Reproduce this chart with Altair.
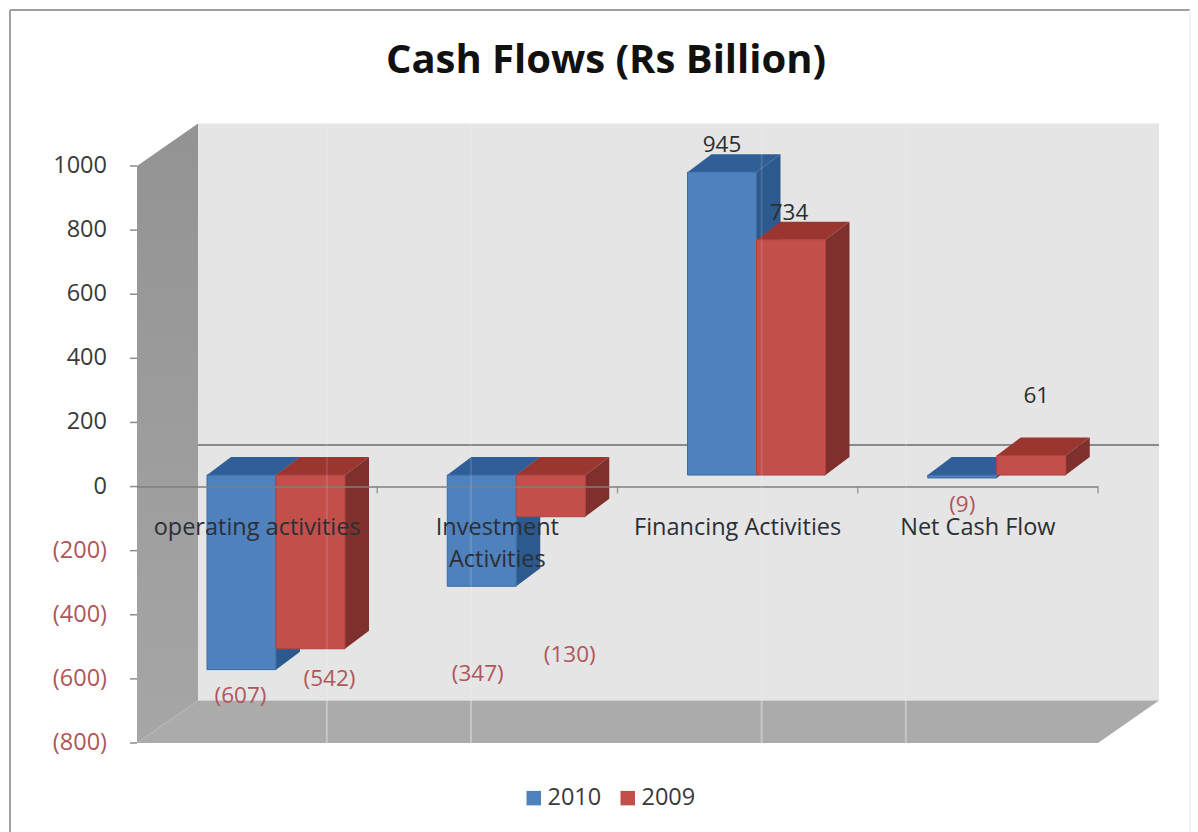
import altair as alt
import pandas as pd

# Cash flow figures in Rs billion
chart_title = "Cash Flows (Rs Billion)"
categories = ["operating activities", "Investment\nActivities", "Financing Activities", "Net Cash Flow"]
values_2010 = [-607, -347, 945, -9]
values_2009 = [-542, -130, 734, 61]
y_ticks = [-800, -600, -400, -200, 0, 200, 400, 600, 800, 1000]

# Plot-area geometry and the pixel size of one scale unit
PLOT_W, PLOT_H = 961, 577
LEFT, TOP = 137, 166
X_MIN, X_MAX = 0, 4
Y_MIN, Y_MAX = -800, 1000
UX = (X_MAX - X_MIN) / PLOT_W
UY = (Y_MAX - Y_MIN) / PLOT_H

# Pseudo-3D projection offsets, in scale units
WALL_DX, WALL_DY = 61 * UX, 42.5 * UY
BAR_BASE = 11.5 * UY
BAR_DX, BAR_DY = 24 * UX, 18 * UY
BAR_W = 69 * UX
BAR_START = 70 * UX

FONT = "Open Sans"
TEXT_SIZE = 23.5
RED_TEXT = "#B0565A"
DARK_TEXT = "#3A3A3A"

x_scale = alt.Scale(domain=[X_MIN, X_MAX], nice=False, zero=False)
y_scale = alt.Scale(domain=[Y_MIN, Y_MAX], nice=False, zero=False)


def X(field="x"):
    return alt.X(f"{field}:Q", scale=x_scale, axis=None, title=None, stack=None)


def Y(field="y"):
    return alt.Y(f"{field}:Q", scale=y_scale, axis=None, title=None, stack=None)


def vertical_face(rows, color, **mark):
    """Parallelogram whose left and right edges are vertical."""
    return alt.Chart(pd.DataFrame(rows)).mark_area(color=color, **mark).encode(
        x=X(), y=Y("y"), y2=alt.Y2("y2:Q"), detail="id:N"
    )


def horizontal_face(rows, color, **mark):
    """Parallelogram whose top and bottom edges are horizontal."""
    return alt.Chart(pd.DataFrame(rows)).mark_area(color=color, orient="horizontal", **mark).encode(
        y=Y(), x=X("x"), x2=alt.X2("x2:Q"), detail="id:N"
    )


def money(v):
    """Negative amounts are written in brackets."""
    return f"({abs(v)})" if v < 0 else str(v)


# Walls and floor of the box
left_wall = vertical_face(
    [
        {"id": 0, "x": X_MIN, "y": Y_MAX, "y2": Y_MIN},
        {"id": 0, "x": X_MIN + WALL_DX, "y": Y_MAX + WALL_DY, "y2": Y_MIN + WALL_DY},
    ],
    alt.Gradient(
        gradient="linear", x1=0, x2=0, y1=0, y2=1,
        stops=[alt.GradientStop(color="#939393", offset=0), alt.GradientStop(color="#A6A6A6", offset=1)],
    ),
)
back_wall = alt.Chart(
    pd.DataFrame([{"x": X_MIN + WALL_DX, "x2": X_MAX + WALL_DX, "y": Y_MAX + WALL_DY, "y2": Y_MIN + WALL_DY}])
).mark_rect(color="#E5E5E5").encode(x=X(), x2="x2:Q", y=Y(), y2="y2:Q")
floor = horizontal_face(
    [
        {"id": 0, "y": Y_MIN, "x": X_MIN, "x2": X_MAX},
        {"id": 0, "y": Y_MIN + WALL_DY, "x": X_MIN + WALL_DX, "x2": X_MAX + WALL_DX},
    ],
    "#ABABAB",
)

# Value axis: ticks and bracketed labels drawn along the front-left edge
tick_table = pd.DataFrame({"x": [X_MIN - 7 * UX] * len(y_ticks), "x2": [X_MIN] * len(y_ticks), "y": y_ticks})
value_ticks = alt.Chart(tick_table).mark_rule(color="#8C8C8C", strokeWidth=1.5).encode(
    x=X(), x2="x2:Q", y=Y()
)
axis_labels = [
    alt.Chart(
        pd.DataFrame(
            {"x": [X_MIN] * len(group), "y": group, "text": [money(v) for v in group]}
        )
    ).mark_text(font=FONT, fontSize=TEXT_SIZE, align="right", baseline="middle", dx=-30, color=color).encode(
        x=X(), y=Y(), text="text:N"
    )
    for group, color in [
        ([v for v in y_ticks if v < 0], RED_TEXT),
        ([v for v in y_ticks if v >= 0], DARK_TEXT),
    ]
]

# Zero lines on the back wall and at the front of the box
back_zero = alt.Chart(pd.DataFrame([{"x": X_MIN + WALL_DX, "x2": X_MAX + WALL_DX, "y": 41.5 * UY}])).mark_rule(
    color="#8A8A8A", strokeWidth=2
).encode(x=X(), x2="x2:Q", y=Y())
front_zero = alt.Chart(pd.DataFrame([{"x": X_MIN, "x2": X_MAX, "y": -0.5 * UY}])).mark_rule(
    color="#7F7F7F", strokeWidth=2, opacity=0.75
).encode(x=X(), x2="x2:Q", y=Y())
category_ticks = alt.Chart(pd.DataFrame({"x": [1, 2, 3, 4]})).mark_tick(
    color="#7F7F7F", orient="vertical", size=7, thickness=1.5, yOffset=3.5
).encode(x=X(), y=alt.datum(0, scale=y_scale, axis=None))

# Build each series' faces
series = [("2010", values_2010, 0, "#4F81BD", "#2F5F96", "#2C5A8E", "#3B6CA6"),
          ("2009", values_2009, 1, "#C24F4A", "#9A3530", "#7F2F2C", "#B0433F")]
color_scale = alt.Scale(domain=[s[0] for s in series], range=[s[3] for s in series])

bars = []
label_rows = []
for name, vals, pos, front_c, top_c, side_c, edge_c in series:
    side_rows, top_rows, front_rows = [], [], []
    for i, v in enumerate(vals):
        x0 = i + BAR_START + pos * BAR_W
        x1 = x0 + BAR_W
        hi = BAR_BASE + max(v, 0)
        lo = BAR_BASE + min(v, 0)
        side_rows += [
            {"id": i, "x": x1, "y": hi, "y2": lo},
            {"id": i, "x": x1 + BAR_DX, "y": hi + BAR_DY, "y2": lo + BAR_DY},
        ]
        top_rows += [
            {"id": i, "y": hi, "x": x0, "x2": x1},
            {"id": i, "y": hi + BAR_DY, "x": x0 + BAR_DX, "x2": x1 + BAR_DX},
        ]
        front_rows.append({"series": name, "x": x0, "x2": x1, "y": hi, "y2": lo})
        label_rows.append({"x": (x0 + x1) / 2, "y": BAR_BASE + v, "value": v})
    bars.append(vertical_face(side_rows, side_c))
    bars.append(horizontal_face(top_rows, top_c))
    bars.append(
        alt.Chart(pd.DataFrame(front_rows)).mark_rect(stroke=edge_c, strokeWidth=1).encode(
            x=X(),
            x2="x2:Q",
            y=Y(),
            y2="y2:Q",
            color=alt.Color(
                "series:N",
                scale=color_scale,
                legend=alt.Legend(
                    title=None,
                    orient="none",
                    legendX=385,
                    legendY=620,
                    direction="horizontal",
                    symbolType="square",
                    symbolSize=210,
                    symbolStrokeWidth=0,
                    labelFont=FONT,
                    labelFontSize=TEXT_SIZE,
                    labelColor=DARK_TEXT,
                    labelOffset=2,
                    columnPadding=14,
                ),
            ),
        )
    )

# Value labels: each sits at its bar's end, then is nudged off the bar
nudges = [(-1, 26), (-4, 88), (0, -27), (0, 27),
          (19, 30), (19, 138), (-2, -27), (5, -60)]
value_labels = []
for row, (dx, dy) in zip(label_rows, nudges):
    v = row["value"]
    value_labels.append(
        alt.Chart(pd.DataFrame([{**row, "text": money(v)}])).mark_text(
            font=FONT, fontSize=TEXT_SIZE - 1, dx=dx, dy=dy,
            color=RED_TEXT if v < 0 else "#2E2E2E",
        ).encode(x=X(), y=Y(), text="text:N")
    )

# Category labels laid over the bars, below the zero line
category_labels = alt.Chart(
    pd.DataFrame({"x": [i + 0.5 for i in range(len(categories))], "y": [-127] * len(categories), "text": categories})
).mark_text(
    font=FONT, fontSize=TEXT_SIZE, color="#2B2F36", baseline="top", dy=-11, lineBreak="\n", lineHeight=32
).encode(x=X(), y=Y(), text="text:N")

# Faint pale streaks across the box, stronger on the floor
streak_x = [0.79, 1.39, 2.6, 3.2]
wall_streaks = alt.Chart(
    pd.DataFrame({"x": streak_x, "y": [Y_MIN] * 4, "y2": [Y_MAX + WALL_DY] * 4})
).mark_rule(color="#FFFFFF", strokeWidth=2, opacity=0.12).encode(x=X(), y=Y(), y2="y2:Q")
floor_streaks = alt.Chart(
    pd.DataFrame({"x": streak_x, "y": [Y_MIN] * 4, "y2": [Y_MIN + WALL_DY] * 4})
).mark_rule(color="#FFFFFF", strokeWidth=2, opacity=0.25).encode(x=X(), y=Y(), y2="y2:Q")

# Outer frame: only the top and left edges show, with a trace of the right one
frame_left_x = (10 - LEFT) * UX
frame_right_x = (1190 - LEFT) * UX
frame_top_y = Y_MAX + (TOP - 10) * UY
frame_bottom_y = Y_MIN - (832 - TOP - PLOT_H) * UY
frame_top = alt.Chart(pd.DataFrame([{"x": frame_left_x, "x2": frame_right_x, "y": frame_top_y}])).mark_rule(
    color="#A0A0A0", strokeWidth=2
).encode(x=X(), x2="x2:Q", y=Y())
frame_left = alt.Chart(pd.DataFrame([{"x": frame_left_x, "y": frame_top_y, "y2": frame_bottom_y}])).mark_rule(
    color="#A0A0A0", strokeWidth=2
).encode(x=X(), y=Y(), y2="y2:Q")
frame_right = alt.Chart(pd.DataFrame([{"x": frame_right_x, "y": frame_top_y, "y2": frame_bottom_y}])).mark_rule(
    color="#F2F2F2", strokeWidth=2
).encode(x=X(), y=Y(), y2="y2:Q")

title_text = alt.Chart(
    pd.DataFrame([{"x": (606 - LEFT) * UX, "y": Y_MAX + (TOP - 61) * UY, "text": chart_title}])
).mark_text(font=FONT, fontSize=40, fontWeight="bold", color="#111111").encode(x=X(), y=Y(), text="text:N")

chart = alt.layer(
    frame_top,
    frame_left,
    frame_right,
    left_wall,
    back_wall,
    floor,
    value_ticks,
    *axis_labels,
    back_zero,
    *bars,
    front_zero,
    category_ticks,
    wall_streaks,
    floor_streaks,
    category_labels,
    *value_labels,
    title_text,
).properties(
    width=PLOT_W,
    height=PLOT_H,
    padding={"left": LEFT, "top": TOP, "right": 1198 - LEFT - PLOT_W, "bottom": 832 - TOP - PLOT_H},
    autosize=alt.AutoSizeParams(type="none"),
    background="#FFFFFF",
).configure_view(stroke=None)

chart.save("out.html", embed_options={"renderer": "svg", "actions": False})
